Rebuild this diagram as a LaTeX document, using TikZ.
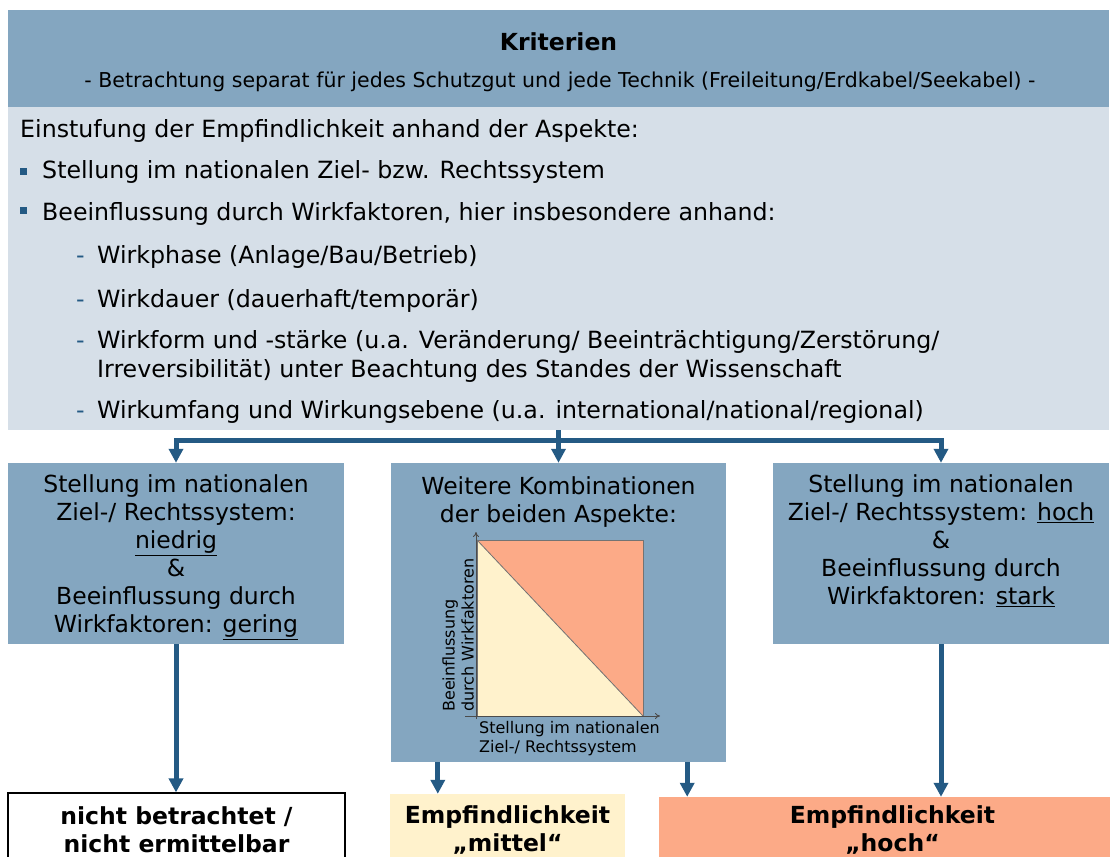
\documentclass[tikz,border=0pt]{standalone}
\usepackage{fontspec}
\setmainfont{DejaVu Sans}
\usetikzlibrary{arrows.meta}

\definecolor{kopfblau}{HTML}{84A6C0}
\definecolor{hellblau}{HTML}{D6DFE8}
\definecolor{pfeilblau}{HTML}{245A84}
\definecolor{lachs}{HTML}{FCAA87}
\definecolor{hellgelb}{HTML}{FFF2CC}

\tikzset{
  feld/.style={fill=kopfblau, inner sep=0pt},
  liste/.style={font=\fontsize{23.7}{28}\selectfont, inner sep=0pt, anchor=base west},
  boxtext/.style={font=\fontsize{23.5}{28}\selectfont, inner sep=0pt, align=center, anchor=north},
  ergebnis/.style={font=\fontsize{23.5}{28}\selectfont\bfseries, inner sep=0pt, align=center, anchor=north},
  punkt/.style={fill=pfeilblau, inner sep=0pt, minimum size=7.5pt},
  conn/.style={line width=5pt, draw=pfeilblau, -{Triangle[width=14pt,length=14pt]}},
  achse/.style={draw=black!70, line width=1pt, -{To[length=5pt,width=6pt]}}
}

\begin{document}
\begin{tikzpicture}[x=1pt, y=-1pt]
  \fill[white] (0,0) rectangle (1117,857);
  \useasboundingbox (0,0) rectangle (1117,857);

  % Kopf und Kriterien
  \node[feld, minimum width=1101pt, minimum height=97pt] (kopf) at (558.5,58.5) {};
  \node[fill=hellblau, inner sep=0pt, minimum width=1101pt, minimum height=323pt] (krit) at (558.5,268.5) {};
  \node[font=\fontsize{23.5}{28}\selectfont\bfseries, inner sep=0pt, anchor=base] (titel) at (558.5,50) {Kriterien};
  \node[font=\fontsize{20.5}{24}\selectfont, inner sep=0pt, anchor=base] (untertitel) at (560,87)
    {- Betrachtung separat für jedes Schutzgut und jede Technik (Freileitung/Erdkabel/Seekabel) -};

  \node[liste] (einst) at (20,137) {Einstufung der Empfindlichkeit anhand der Aspekte:};
  \node[punkt] (p1) at (23.5,171.5) {};
  \node[liste] (stell) at (42,178) {Stellung im nationalen Ziel- bzw. Rechtssystem};
  \node[punkt] (p2) at (23.5,210.5) {};
  \node[liste] (beein) at (42,220) {Beeinflussung durch Wirkfaktoren, hier insbesondere anhand:};

  % Unterpunkte
  \node[liste, text=pfeilblau] (d1) at (76,263) {-};
  \node[liste] (phase) at (97,263) {Wirkphase (Anlage/Bau/Betrieb)};
  \node[liste, text=pfeilblau] (d2) at (76,307) {-};
  \node[liste] (dauer) at (97,307) {Wirkdauer (dauerhaft/temporär)};
  \node[liste, text=pfeilblau] (d3) at (76,348) {-};
  \node[liste] (form) at (97,348) {Wirkform und -stärke (u.a. Veränderung/ Beeinträchtigung/Zerstörung/};
  \node[liste] (formb) at (97,377) {Irreversibilität) unter Beachtung des Standes der Wissenschaft};
  \node[liste, text=pfeilblau] (d4) at (76,418) {-};
  \node[liste] (umfang) at (97,418) {Wirkumfang und Wirkungsebene (u.a. international/national/regional)};

  % Drei Faelle
  \node[feld, minimum width=336pt, minimum height=181pt] (lbox) at (176,553.5) {};
  \node[feld, minimum width=335pt, minimum height=299pt] (kbox) at (558.5,612.5) {};
  \node[feld, minimum width=336pt, minimum height=181pt] (rbox) at (941,553.5) {};

  \node[boxtext, yshift=-12pt] (ltext) at (lbox.north)
    {Stellung im nationalen\\Ziel-/ Rechtssystem:\\\underline{niedrig}\\\&\\Beeinflussung durch\\Wirkfaktoren: \underline{gering}};
  \node[boxtext, yshift=-14pt] (ktext) at (kbox.north)
    {Weitere Kombinationen\\der beiden Aspekte:};
  \node[boxtext, yshift=-12pt] (rtext) at (rbox.north)
    {Stellung im nationalen\\Ziel-/ Rechtssystem: \underline{hoch}\\\&\\Beeinflussung durch\\Wirkfaktoren: \underline{stark}};

  % Diagramm
  \fill[hellgelb] (477,540) -- (643,716) -- (477,716) -- cycle;
  \fill[lachs] (477,540) -- (643,540) -- (643,716) -- cycle;
  \draw[black!55, line width=0.8pt] (477,540) rectangle (643,716);
  \draw[black!55, line width=0.8pt] (477,540) -- (643,716);
  \draw[achse] (465,716) -- (660,716);
  \draw[achse] (476,719) -- (476,532);
  \node[font=\fontsize{16}{19}\selectfont, inner sep=0pt, align=left, rotate=90, anchor=south west] (ylabel) at (474,712)
    {Beeinflussung\\durch Wirkfaktoren};
  \node[font=\fontsize{16}{19}\selectfont, inner sep=0pt, align=left, anchor=north west] (xlabel) at (479,721)
    {Stellung im nationalen\\Ziel-/ Rechtssystem};

  % Ergebnisse
  \node[draw=black, line width=1.2pt, fill=white, inner sep=0pt, minimum width=337pt, minimum height=77pt] (nbox) at (176.5,831.5) {};
  \node[fill=hellgelb, inner sep=0pt, minimum width=235pt, minimum height=76pt] (mbox) at (507.5,832) {};
  \node[fill=lachs, inner sep=0pt, minimum width=451pt, minimum height=73pt] (hbox) at (884.5,833.5) {};
  \node[ergebnis, yshift=-14pt] (ntext) at (nbox.north) {nicht betrachtet /\\nicht ermittelbar};
  \node[ergebnis, yshift=-12pt] (mtext) at (mbox.north) {Empfindlichkeit\\„mittel“};
  \node[ergebnis, yshift=-9pt, xshift=8pt] (htext) at (hbox.north) {Empfindlichkeit\\„hoch“};

  % Pfeile
  \coordinate (split) at (krit.south |- 0,440);
  \draw[line width=5pt, pfeilblau] (krit.south) -- (split);
  \draw[conn] (split) -| (lbox.north);
  \draw[conn] (split) -| (rbox.north);
  \draw[conn] (split) -- (kbox.north);
  \draw[conn] (lbox.south) -- (lbox.south |- nbox.north);
  \draw[conn] (rbox.south) -- (rbox.south |- hbox.north);
  \draw[conn] ([xshift=47pt]kbox.south west) -- ([xshift=47pt]kbox.south west |- mbox.north);
  \draw[conn] ([xshift=-39pt]kbox.south east) -- ([xshift=-39pt]kbox.south east |- hbox.north);
\end{tikzpicture}
\end{document}
